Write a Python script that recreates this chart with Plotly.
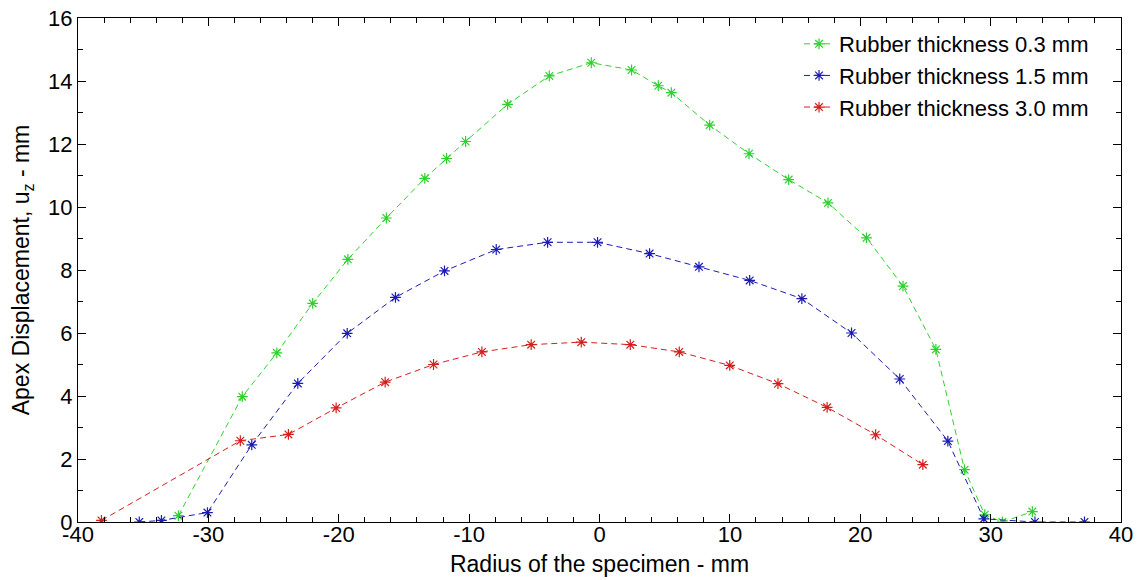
import plotly.graph_objects as go

# Rubber thickness 0.3 mm
green_x = [-32.3, -27.4, -24.75, -22.0, -19.3, -16.35, -13.4, -11.73, -10.27, -7.05, -3.85,
           -0.63, 2.46, 4.51, 5.51, 8.45, 11.47, 14.51, 17.53, 20.48, 23.28, 25.8, 28.0,
           29.55, 30.9, 33.2]
green_y = [0.2, 3.98, 5.37, 6.94, 8.34, 9.65, 10.91, 11.54, 12.08, 13.26, 14.16,
           14.58, 14.35, 13.85, 13.63, 12.6, 11.69, 10.87, 10.13, 9.02, 7.49, 5.48, 1.66,
           0.23, 0.0, 0.33]

# Rubber thickness 1.5 mm
blue_x = [-35.3, -33.6, -30.07, -26.67, -23.14, -19.35, -15.65, -11.89, -7.92, -3.98, -0.15,
          3.84, 7.63, 11.52, 15.52, 19.33, 23.03, 26.72, 29.48, 33.4, 37.2]
blue_y = [0.0, 0.05, 0.3, 2.45, 4.4, 5.99, 7.13, 7.97, 8.65, 8.88, 8.88,
          8.52, 8.1, 7.67, 7.09, 6.0, 4.54, 2.57, 0.1, 0.0, 0.0]

# Rubber thickness 3.0 mm
red_x = [-38.2, -27.55, -23.86, -20.2, -16.44, -12.73, -9.02, -5.24, -1.4, 2.36, 6.12,
         9.99, 13.69, 17.46, 21.18, 24.8]
red_y = [0.05, 2.58, 2.78, 3.62, 4.44, 5.0, 5.4, 5.63, 5.71, 5.63, 5.4,
         4.97, 4.39, 3.64, 2.77, 1.82]

series_names = ["Rubber thickness 0.3 mm", "Rubber thickness 1.5 mm", "Rubber thickness 3.0 mm"]
x_ticks = [-40, -30, -20, -10, 0, 10, 20, 30, 40]
y_ticks = [0, 2, 4, 6, 8, 10, 12, 14, 16]

FONT = "Liberation Sans, Arial, sans-serif"

fig = go.Figure()
for xs, ys, name, col in [
    (green_x, green_y, series_names[0], "#2ed12e"),
    (blue_x, blue_y, series_names[1], "#1c1cb4"),
    (red_x, red_y, series_names[2], "#d41e1e"),
]:
    fig.add_trace(go.Scatter(
        x=xs, y=ys, name=name, mode="lines+markers",
        line=dict(color=col, width=1, dash="6px,4px"),
        marker=dict(symbol="asterisk-open", size=9, color=col, line=dict(color=col, width=1.2)),
    ))

axis_common = dict(
    showline=True, linecolor="black", linewidth=1, mirror="ticks",
    ticks="inside", ticklen=8, tickwidth=1, tickcolor="black",
    showgrid=False, zeroline=False, automargin=False, ticklabeloverflow="allow",
    tickfont=dict(family=FONT, size=22, color="black"),
    minor=dict(ticks="inside", ticklen=5, tickwidth=1, tickcolor="black", showgrid=False),
)

# page body has an 8px default margin, so the figure is sized/placed to compensate
fig.update_layout(
    width=1133, height=572,
    margin=dict(l=70, r=20, t=10, b=58),
    paper_bgcolor="white", plot_bgcolor="white",
    font=dict(family=FONT, color="black"),
    xaxis=dict(range=[-40, 40], tickvals=x_ticks, ticktext=[str(v) for v in x_ticks],
               ticklabelstandoff=-7,
               title=dict(text="Radius of the specimen - mm", font=dict(family=FONT, size=23), standoff=9),
               **axis_common),
    yaxis=dict(range=[0, 16], tickvals=y_ticks, ticktext=[str(v) for v in y_ticks],
               title=dict(text="Apex Displacement, u<sub>z</sub> - mm", font=dict(family=FONT, size=23), standoff=14),
               **axis_common),
    legend=dict(x=0.6913, y=0.99, xanchor="left", yanchor="top",
                font=dict(family=FONT, size=22, color="black"),
                bgcolor="rgba(255,255,255,0)", borderwidth=0, tracegroupgap=0),
    showlegend=True,
)
fig.update_xaxes(minor_tick0=-40, minor_dtick=2)
fig.update_yaxes(minor_tick0=0, minor_dtick=1)

fig.write_html("out.html")
